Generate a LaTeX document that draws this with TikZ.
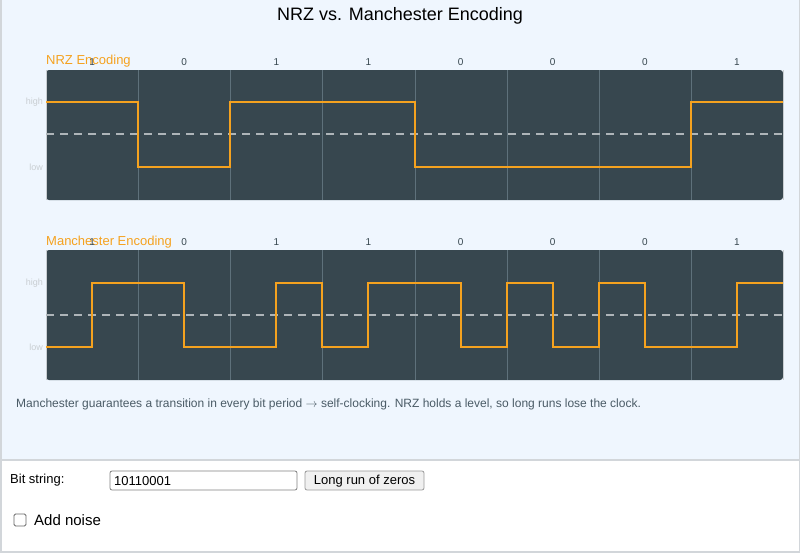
\documentclass[tikz,border=0pt]{standalone}
\usepackage{fontspec}
\setmainfont{Liberation Sans}
\usetikzlibrary{positioning}
\definecolor{panelbg}{HTML}{EFF6FE}
\definecolor{plotbg}{HTML}{37474F}
\definecolor{gridc}{HTML}{5E717B}
\definecolor{sigc}{HTML}{F5A21F}
\definecolor{midc}{HTML}{AEB5B9}
\definecolor{axisc}{HTML}{C9CED2}
\definecolor{bitc}{HTML}{37474F}
\definecolor{capc}{HTML}{4A5B66}
\definecolor{framec}{HTML}{D2D6DA}
\tikzstyle{plot}=[fill=plotbg,rounded corners=3pt]
\tikzstyle{gridline}=[draw=gridc,line width=0.8pt]
\tikzstyle{axisline}=[draw=axisc,line width=1pt]
\tikzstyle{signal}=[draw=sigc,line width=2.6pt]
\tikzstyle{midline}=[draw=midc,line width=1.5pt,dash pattern=on 8pt off 6pt]
\tikzstyle{bitlabel}=[inner sep=0pt,text=bitc,font=\fontsize{10}{12}\selectfont]
\tikzstyle{levellabel}=[inner sep=0pt,anchor=east,text=axisc,font=\fontsize{9}{11}\selectfont]
\tikzstyle{plottitle}=[inner sep=0pt,anchor=west,text=sigc,font=\fontsize{13}{15}\selectfont]
\tikzstyle{formtext}=[inner sep=0pt,anchor=west,font=\fontsize{13}{15}\selectfont]
\tikzstyle{field}=[draw=gray!80,fill=white,rounded corners=2pt,line width=0.8pt]

\begin{document}
\begin{tikzpicture}[x=1pt,y=-1pt]
      \useasboundingbox (0,0) rectangle (800,552);
      % panels
      \fill[panelbg] (0,0) rectangle (800,460);
      \draw[framec,line width=1.5pt] (0,460) -- (800,460);
      \draw[framec,line width=1.5pt] (0.75,0) -- (0.75,552) -- (799.25,552) -- (799.25,0);
      \node[font=\fontsize{18}{21}\selectfont] at (400,16) (title) {NRZ vs. Manchester Encoding};

      % NRZ plot
      \fill[plot] (46,70) rectangle (783,200);
      \foreach \x in {138,230,322,415,507,599,691}
        \draw[gridline] (\x,70) -- (\x,200);
      \draw[axisline] (46,70) -- (46,200);
      \draw[axisline] (783,70) -- (783,200);
      \draw[midline] (46,134) -- (783,134);
      \node[levellabel] at (43,102) (nrzhigh) {high};
      \node[levellabel] at (43,167) (nrzlow) {low};
      \node[plottitle] at (46,61) (nrztitle) {NRZ Encoding};
      \foreach \b [count=\i] in {1,0,1,1,0,0,0,1}
        \node[bitlabel] at ({46+92.125*(\i-0.5)},62) (nrzbit\i) {\b};
      \draw[signal] (46,102) -- (138,102) -- (138,167) -- (230,167) -- (230,102)
        -- (415,102) -- (415,167) -- (691,167) -- (691,102) -- (783,102);

      % Manchester plot
      \fill[plot] (46,250) rectangle (783,380);
      \foreach \x in {138,230,322,415,507,599,691}
        \draw[gridline] (\x,250) -- (\x,380);
      \draw[axisline] (46,250) -- (46,380);
      \draw[axisline] (783,250) -- (783,380);
      \draw[midline] (46,315) -- (783,315);
      \node[levellabel] at (43,283) (manhigh) {high};
      \node[levellabel] at (43,347) (manlow) {low};
      \node[plottitle] at (46,242) (mantitle) {Manchester Encoding};
      \foreach \b [count=\i] in {1,0,1,1,0,0,0,1}
        \node[bitlabel] at ({46+92.125*(\i-0.5)},242) (manbit\i) {\b};
      \draw[signal] (46,347) -- (92,347) -- (92,283) -- (184,283) -- (184,347)
        -- (276,347) -- (276,283) -- (322,283) -- (322,347) -- (368,347)
        -- (368,283) -- (461,283) -- (461,347) -- (507,347) -- (507,283)
        -- (553,283) -- (553,347) -- (599,347) -- (599,283) -- (645,283)
        -- (645,347) -- (737,347) -- (737,283) -- (783,283);

      \node[inner sep=0pt,anchor=west,text=capc,font=\fontsize{12}{14}\selectfont] at (16,404) (caption)
        {Manchester guarantees a transition in every bit period $\rightarrow$ self-clocking. NRZ holds a level, so long runs lose the clock.};

      % controls
      \node[formtext] at (10,480) (bitlabeltext) {Bit string:};
      \draw[field,draw=gray] (110,471) rectangle (297,490);
      \node[formtext] at (114,481) (bitvalue) {10110001};
      \draw[field,fill=gray!12] (305,471) rectangle (424,490);
      \node[font=\fontsize{13}{15}\selectfont,inner sep=0pt] at (364.5,481) (zerosbtn) {Long run of zeros};
      \draw[field,draw=black!60,rounded corners=1.5pt] (14,514) rectangle (26,526);
      \node[inner sep=0pt,anchor=west,font=\fontsize{15}{17}\selectfont] at (34,520) (noise) {Add noise};
    \end{tikzpicture}
\end{document}
